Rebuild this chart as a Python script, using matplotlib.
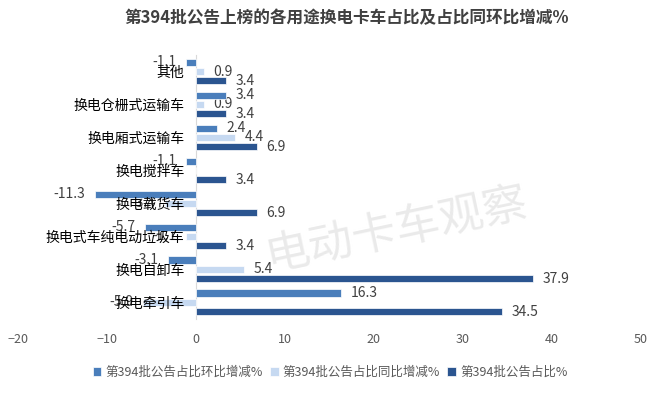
import numpy as np
import matplotlib
matplotlib.use("Agg")
import matplotlib.pyplot as plt

plt.rcParams['font.family'] = ['Noto Sans CJK SC', 'DejaVu Sans']

# categories from top to bottom
categories = ['其他', '换电仓栅式运输车', '换电厢式运输车', '换电搅拌车',
              '换电载货车', '换电式车纯电动垃圾车', '换电自卸车', '换电牵引车']
mom_change = [-1.1, 3.4, 2.4, -1.1, -11.3, -5.7, -3.1, 16.3]   # 环比增减
yoy_change = [0.9, 0.9, 4.4, 0, -3.4, -1.1, 5.4, -5.9]         # 同比增减
share = [3.4, 3.4, 6.9, 3.4, 6.9, 3.4, 37.9, 34.5]             # 占比
series_names = ['第394批公告占比环比增减%', '第394批公告占比同比增减%', '第394批公告占比%']
colors = ['#4A7EBB', '#C6D9F1', '#2B5590']

fig = plt.figure(figsize=(6.6, 3.96), dpi=100)
ax = fig.add_axes([0.027, 0.195, 0.943, 0.666])

y = np.arange(len(categories))
h = 0.22
offsets = [-0.28, 0, 0.28]
all_series = [mom_change, yoy_change, share]

for vals, off, col, name in zip(all_series, offsets, colors, series_names):
    bars = ax.barh(y + off, vals, height=h, color=col, edgecolor='white',
                   linewidth=0.5, label=name, zorder=2)
    for b, v in zip(bars, vals):
        if v == 0:
            continue
        cy = b.get_y() + b.get_height() / 2
        if v > 0:
            ax.annotate(f'{v:g}', (v, cy), xytext=(7, 0), textcoords='offset points',
                        ha='left', va='center', fontsize=10, color='#404040', zorder=1)
        else:
            ax.annotate(f'{v:g}', (v, cy), xytext=(-7, 0), textcoords='offset points',
                        ha='right', va='center', fontsize=10, color='#404040', zorder=1)

ax.set_xlim(-20, 50)
ax.set_ylim(len(categories) - 0.5, -0.5)
ax.set_xticks(range(-20, 51, 10))
ax.set_yticks(y)
ax.set_yticklabels(categories, fontsize=10.5, color='#404040')
ax.tick_params(axis='x', length=0, pad=10, labelsize=9, labelcolor='#595959')
ax.tick_params(axis='y', length=0, pad=8)
ax.yaxis.set_zorder(5)

for s in ['top', 'right', 'bottom']:
    ax.spines[s].set_visible(False)
ax.spines['left'].set_position(('data', 0))
ax.spines['left'].set_color('#D9D9D9')
ax.spines['left'].set_zorder(1.5)

# watermark
fig.text(0.6, 0.42, '电动卡车观察', fontsize=32, color='#DDDDDD', alpha=0.6,
         rotation=12, ha='center', va='center', zorder=0)

fig.text(0.525, 0.955, '第394批公告上榜的各用途换电卡车占比及占比同环比增减%',
         ha='center', va='center', fontsize=12, fontweight='bold', color='#404040')

fig.legend(loc='center', bbox_to_anchor=(0.5, 0.06), ncol=3, frameon=False,
           fontsize=9, handlelength=0.7, handleheight=0.7, handletextpad=0.3,
           columnspacing=0.6, labelcolor='#595959')

fig.savefig('out.png', dpi=100)
